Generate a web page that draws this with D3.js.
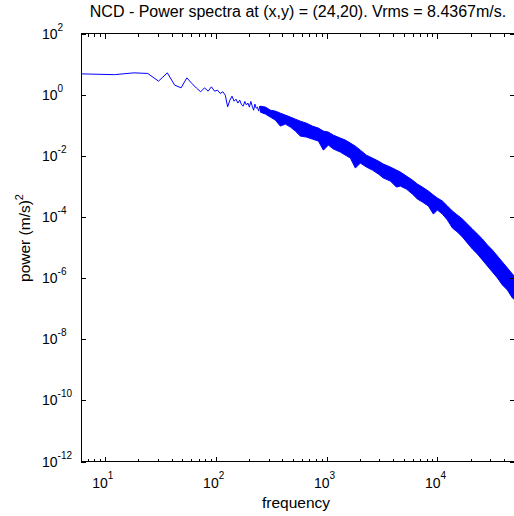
<!DOCTYPE html>
<html>
<head>
<meta charset="utf-8">
<script src="https://cdn.jsdelivr.net/npm/d3@7"></script>
<style>
  body { margin: 0; background: #fff; }
  svg { display: block; }
  text { font-family: "Liberation Sans", Arial, sans-serif; fill: #000; }
</style>
</head>
<body>
<div id="chart"></div>
<script>
// low-frequency part of the spectrum, read point by point (Hz, (m/s)^2)
const lineFreq = [6.10, 12.21, 18.31, 24.41, 30.52, 36.62, 42.72, 48.83, 54.93, 61.04,
  67.14, 73.24, 79.35, 85.45, 91.55, 97.66, 103.76, 109.86, 115.97, 122.07,
  128.17, 134.28, 140.38, 146.48, 152.59, 158.69, 164.79, 170.90, 177.00, 183.11,
  189.21, 195.31, 201.42, 207.52, 213.62, 219.73, 225.83, 231.93, 238.04, 244.14,
  250.24, 256.35];
const linePower = [4.78, 4.51, 5.16, 4.93, 2.76, 5.16, 2.04, 1.67, 3.54, 2.32,
  1.63, 1.24, 1.67, 1.30, 1.80, 1.30, 1.40, 1.09, 1.24, 0.96,
  0.40, 0.66, 0.89, 0.61, 0.71, 0.53, 0.66, 0.47, 0.42, 0.60,
  0.46, 0.53, 0.39, 0.60, 0.42, 0.31, 0.49, 0.36, 0.39, 0.29,
  0.42, 0.27];

// dense noisy part: upper / lower envelope of the trace
const bandFreq = [253, 281, 311, 345, 383, 425, 472, 523, 580, 658,
  745, 844, 936, 1038, 1152, 1332, 1477, 1639, 1818, 2017,
  2285, 2588, 2932, 3252, 3761, 4260, 4629, 5244, 5939, 6589,
  7310, 8279, 9185, 9979, 11070, 12290, 13630, 15120, 16770, 18610,
  20640, 22900, 25400, 28180, 31270, 34690, 38480, 42690, 47360, 50000];
const bandHigh = [0.421, 0.391, 0.311, 0.289, 0.248, 0.214, 0.184, 0.158, 0.136, 0.117,
  0.0935, 0.0804, 0.0641, 0.0596, 0.0474, 0.0379, 0.0326, 0.0260, 0.0207, 0.0153,
  0.0105, 0.00841, 0.00671, 0.00536, 0.00428, 0.00341, 0.00293, 0.00217, 0.00161, 0.00119,
  0.000948, 0.000702, 0.000520, 0.000415, 0.000331, 0.000227, 0.000156, 0.000115, 8.53e-5, 5.86e-5,
  4.03e-5, 2.76e-5, 1.90e-5, 1.21e-5, 8.28e-6, 5.27e-6, 3.36e-6, 2.14e-6, 1.36e-6, 1.09e-6];
const bandLow = [0.268, 0.231, 0.184, 0.147, 0.0935, 0.109, 0.0867, 0.0641, 0.0441, 0.0408,
  0.0352, 0.0302, 0.0153, 0.0224, 0.0166, 0.0132, 0.0105, 0.00841, 0.00396, 0.00577,
  0.00428, 0.00341, 0.00252, 0.00187, 0.00149, 0.000948, 0.00102, 0.000816, 0.000560, 0.000385,
  0.000307, 0.000227, 0.000124, 0.000168, 0.000124, 7.92e-5, 4.34e-5, 3.21e-5, 2.20e-5, 1.40e-5,
  8.93e-6, 6.14e-6, 3.91e-6, 2.48e-6, 1.58e-6, 1.01e-6, 5.96e-7, 4.08e-7, 2.24e-7, 1.92e-7];

// axis ticks
const xDomain = [6.1035, 50000];
const yDomain = [1e-12, 1e2];
const xTickExp = [1, 2, 3, 4];
const yTickExp = [2, 0, -2, -4, -6, -8, -10, -12];

const title = 'NCD - Power spectra at (x,y) = (24,20). Vrms = 8.4367m/s.';
const xTitle = 'frequency';
const yTitle = 'power (m/s)';

const W = 514, H = 516;
const plot = { left: 81, right: 515, top: 33.5, bottom: 461.5 };

const svg = d3.select('#chart').append('svg')
    .attr('width', W)
    .attr('height', H);

svg.append('rect').attr('width', W).attr('height', H).attr('fill', '#fff');

const x = d3.scaleLog().domain(xDomain).range([plot.left, plot.right]);
const y = d3.scaleLog().domain(yDomain).range([plot.bottom, plot.top]);

svg.append('clipPath').attr('id', 'clip')
  .append('rect')
    .attr('x', plot.left).attr('y', plot.top)
    .attr('width', plot.right - plot.left).attr('height', plot.bottom - plot.top);

const g = svg.append('g').attr('clip-path', 'url(#clip)');

// noisy high-frequency band
const band = bandFreq.map((f, i) => ({ f, hi: bandHigh[i], lo: bandLow[i] }));
g.append('path')
    .datum(band)
    .attr('fill', '#0000ff')
    .attr('stroke', '#0000ff')
    .attr('stroke-width', 1)
    .attr('d', d3.area()
        .x(d => x(d.f))
        .y0(d => y(d.lo))
        .y1(d => y(d.hi)));

// low-frequency trace
const pts = lineFreq.map((f, i) => ({ f, p: linePower[i] }));
g.append('path')
    .datum(pts)
    .attr('fill', 'none')
    .attr('stroke', '#0000ff')
    .attr('stroke-width', 1)
    .attr('d', d3.line().x(d => x(d.f)).y(d => y(d.p)));

// frame
const ax = svg.append('g').attr('stroke', '#000').attr('shape-rendering', 'crispEdges');
ax.append('rect')
    .attr('x', plot.left).attr('y', plot.top)
    .attr('width', plot.right - plot.left).attr('height', plot.bottom - plot.top)
    .attr('fill', 'none');

// x ticks (major + minor), inward on bottom and top
const xMinor = [];
for (let e = 0; e <= 4; e++) {
  for (let m = 2; m <= 9; m++) {
    const v = m * Math.pow(10, e);
    if (v > xDomain[0] && v < xDomain[1]) xMinor.push(v);
  }
}
xTickExp.forEach(e => {
  const px = Math.round(x(Math.pow(10, e))) + 0.5;
  ax.append('line').attr('x1', px).attr('x2', px).attr('y1', plot.bottom).attr('y2', plot.bottom - 5);
  ax.append('line').attr('x1', px).attr('x2', px).attr('y1', plot.top).attr('y2', plot.top + 5);
});
xMinor.forEach(v => {
  const px = Math.round(x(v)) + 0.5;
  ax.append('line').attr('x1', px).attr('x2', px).attr('y1', plot.bottom).attr('y2', plot.bottom - 3);
  ax.append('line').attr('x1', px).attr('x2', px).attr('y1', plot.top).attr('y2', plot.top + 3);
});

// y ticks left and right
yTickExp.forEach(e => {
  const py = Math.round(y(Math.pow(10, e))) + 0.5;
  ax.append('line').attr('x1', plot.left).attr('x2', plot.left + 5).attr('y1', py).attr('y2', py);
  ax.append('line').attr('x1', plot.right).attr('x2', plot.right - 5).attr('y1', py).attr('y2', py);
});

// tick labels 10^n
xTickExp.forEach(e => {
  const t = svg.append('text')
      .attr('x', x(Math.pow(10, e)) - 2)
      .attr('y', 488)
      .attr('text-anchor', 'middle');
  t.append('tspan').style('font-size', '14px').text('10');
  t.append('tspan').attr('dy', -9).style('font-size', '10px').text(e);
});

yTickExp.forEach(e => {
  const t = svg.append('text')
      .attr('x', 42)
      .attr('y', y(Math.pow(10, e)) + 5)
      .attr('text-anchor', 'start');
  t.append('tspan').style('font-size', '14px').text('10');
  t.append('tspan').attr('dy', -8).style('font-size', '10px').text(e);
});

// titles
svg.append('text')
    .attr('x', (plot.left + plot.right) / 2)
    .attr('y', 17)
    .attr('text-anchor', 'middle')
    .style('font-size', '16px')
    .text(title);

svg.append('text')
    .attr('x', 296)
    .attr('y', 508)
    .attr('text-anchor', 'middle')
    .style('font-size', '15.5px')
    .text(xTitle);

const yl = svg.append('text')
    .attr('transform', 'translate(30,238) rotate(-90)')
    .attr('text-anchor', 'middle')
    .style('font-size', '15.5px');
yl.append('tspan').text(yTitle);
yl.append('tspan').attr('dy', -7).style('font-size', '11px').text('2');
</script>
</body>
</html>
